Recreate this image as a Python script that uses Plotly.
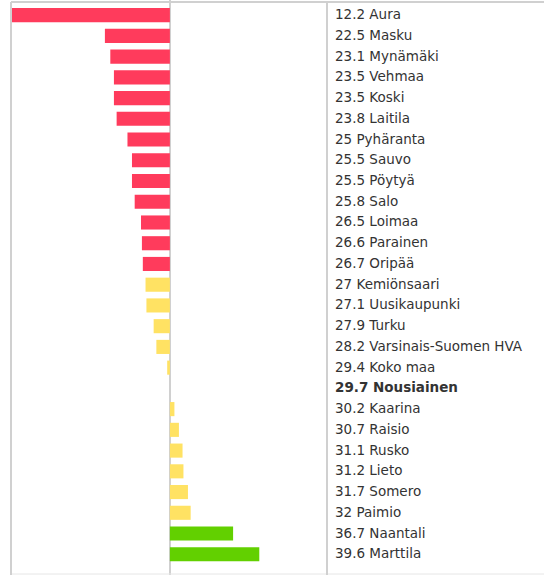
import plotly.graph_objects as go

names = ["Aura", "Masku", "Mynämäki", "Vehmaa", "Koski", "Laitila", "Pyhäranta",
         "Sauvo", "Pöytyä", "Salo", "Loimaa", "Parainen", "Oripää", "Kemiönsaari",
         "Uusikaupunki", "Turku", "Varsinais-Suomen HVA", "Koko maa", "Nousiainen",
         "Kaarina", "Raisio", "Rusko", "Lieto", "Somero", "Paimio", "Naantali", "Marttila"]
values = [12.2, 22.5, 23.1, 23.5, 23.5, 23.8, 25, 25.5, 25.5, 25.8, 26.5, 26.6, 26.7, 27,
          27.1, 27.9, 28.2, 29.4, 29.7, 30.2, 30.7, 31.1, 31.2, 31.7, 32, 36.7, 39.6]
reference_name = "Nousiainen"

W, H = 544, 575
ref_val = values[names.index(reference_name)]
diffs = [v - ref_val for v in values]

RED, YELLOW, GREEN = "#ff3b5c", "#ffe263", "#62d000"
def col(v):
    if v < 26.9:
        return RED
    if v < 34:
        return YELLOW
    return GREEN
colors = [col(v) for v in values]

fig = go.Figure(go.Bar(
    x=diffs, y=names, orientation="h",
    marker=dict(color=colors, line=dict(width=0)),
    hoverinfo="skip",
))

x_left, x_right = 11, 327
fig.update_layout(
    width=W, height=H, margin=dict(l=0, r=0, t=0, b=0),
    paper_bgcolor="white", plot_bgcolor="white",
    showlegend=False, bargap=0.32,
    xaxis=dict(domain=[x_left / W, x_right / W], range=[-17.6, 17.4],
               showgrid=False, showticklabels=False, ticks="",
               zeroline=True, zerolinecolor="#d0d0d0", zerolinewidth=2),
    yaxis=dict(range=[27.0, -0.73], showgrid=False, showticklabels=False,
               ticks="", zeroline=False),
)

for n, v in zip(names, values):
    t = f"{v:g} {n}"
    if n == reference_name:
        t = f"<b>{t}</b>"
    fig.add_annotation(x=333 / W, xref="paper", y=n, yref="y", text=t,
                       showarrow=False, xanchor="left", yanchor="middle",
                       yshift=1,
                       font=dict(family="DejaVu Sans", size=13.5, color="#333333"))

line = dict(color="#d0d0d0", width=2)
def py(p):
    return 1 - p / H
shapes = [
    dict(type="line", xref="paper", yref="paper", x0=x_left / W, x1=1, y0=py(2), y1=py(2), line=line),
    dict(type="line", xref="paper", yref="paper", x0=x_left / W, x1=1, y0=py(574), y1=py(574),
         line=dict(color="#e6e6e6", width=1)),
    dict(type="line", xref="paper", yref="paper", x0=x_left / W, x1=x_left / W, y0=py(2), y1=py(575), line=line),
    dict(type="line", xref="paper", yref="paper", x0=x_right / W, x1=x_right / W, y0=py(2), y1=py(575), line=line),
]
fig.update_layout(shapes=shapes)

fig.write_html("out.html", config={"displayModeBar": False, "staticPlot": True},
               post_script="document.body.style.margin='0';document.body.style.overflow='hidden';")
